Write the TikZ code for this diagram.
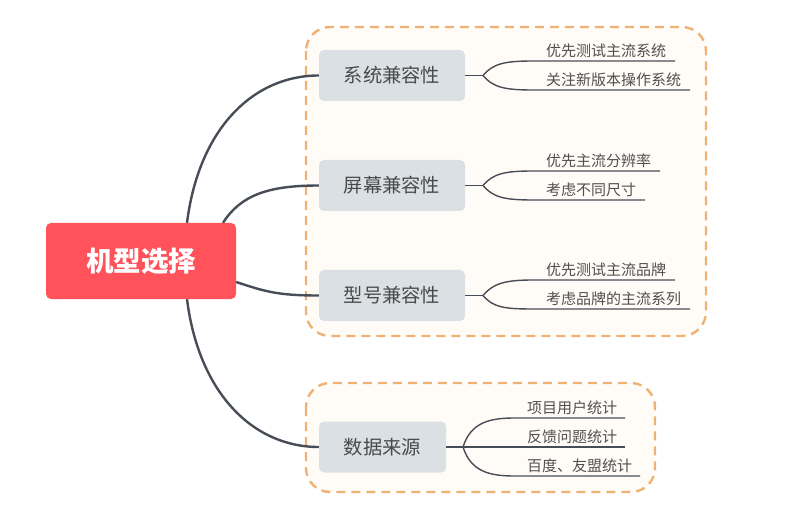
\documentclass[tikz,border=0pt]{standalone}
\usepackage{fontspec}
\newfontfamily\cjk{Noto Sans CJK SC}
\definecolor{rootred}{HTML}{FF525B}
\definecolor{branchbg}{HTML}{DAE0E3}
\definecolor{linec}{HTML}{474D56}
\definecolor{grpfill}{HTML}{FFFCF7}
\definecolor{grpdash}{HTML}{F0B274}
\definecolor{txtc}{HTML}{4A4A4A}
\definecolor{leaftxt}{HTML}{505050}
\tikzset{
  grp/.style={draw=grpdash, fill=grpfill, line width=2.4pt, dash pattern=on 9pt off 6pt, rounded corners=24pt},
  rootbox/.style={fill=rootred, rounded corners=5pt, minimum width=190pt, minimum height=76pt, inner sep=0, text=white, font=\cjk\bfseries\fontsize{27.5}{31}\selectfont},
  branch/.style={fill=branchbg, rounded corners=5pt, minimum height=51pt, inner sep=0, text=txtc, font=\cjk\fontsize{19.3}{23}\selectfont},
  leaf/.style={anchor=west, inner sep=0, text=leaftxt, font=\cjk\fontsize{15}{18}\selectfont},
  mainline/.style={draw=linec, line width=2.4pt},
  subline/.style={draw=linec, line width=1.4pt},
}
\begin{document}
\begin{tikzpicture}[x=1pt,y=-1pt]
\fill[white] (0,0) rectangle (800,529);
\useasboundingbox (0,0) rectangle (800,529);
% groups
\draw[grp] (306,27) rectangle (706,336);
\draw[grp] (306,383) rectangle (655,492);
% root and branches
\node[rootbox] (root) at (141,261) {机型选择};
\node[branch, minimum width=146pt] (b1) at (392,75.5) {系统兼容性};
\node[branch, minimum width=146pt] (b2) at (392,185.5) {屏幕兼容性};
\node[branch, minimum width=146pt] (b3) at (392,295.5) {型号兼容性};
\node[branch, minimum width=127pt] (b4) at (382.5,447) {数据来源};
% main connectors
\draw[mainline] ([xshift=46pt]root.north) .. controls +(12,-95) and +(-65,0) .. (b1.west);
\draw[mainline] ([xshift=82pt]root.north) .. controls +(18,-28) and +(-50,0) .. (b2.west);
\draw[mainline] ([yshift=-21pt]root.east) .. controls +(30,10) and +(-40,0) .. (b3.west);
\draw[mainline] ([xshift=46pt]root.south) .. controls +(12,95) and +(-65,0) .. (b4.west);
% leaves
\node[leaf] (t11) at (546,51) {优先测试主流系统};
\node[leaf] (t12) at (546,80) {关注新版本操作系统};
\node[leaf] (t21) at (546,161) {优先主流分辨率};
\node[leaf] (t22) at (546,190) {考虑不同尺寸};
\node[leaf] (t31) at (546,270) {优先测试主流品牌};
\node[leaf] (t32) at (546,299) {考虑品牌的主流系列};
\node[leaf] (t41) at (527,408) {项目用户统计};
\node[leaf] (t42) at (527,437) {反馈问题统计};
\node[leaf] (t43) at (527,466) {百度、友盟统计};
% fork coordinates
\coordinate (f1) at (483,75.5);
\coordinate (f2) at (483,185.5);
\coordinate (f3) at (483,295.5);
\coordinate (f4) at (463,447);
\coordinate (e11) at (675,61);
\coordinate (e12) at (690,90);
\coordinate (e21) at (660,171);
\coordinate (e22) at (645,200);
\coordinate (e31) at (675,280);
\coordinate (e32) at (690,309);
\coordinate (e41) at (625,418);
\coordinate (e42) at (625,447);
\coordinate (e43) at (640,476);
% sub connectors
\foreach \b/\f/\ea/\eb/\sa/\sb in {b1/f1/e11/e12/142/157, b2/f2/e21/e22/127/112, b3/f3/e31/e32/142/157}{
  \draw[subline] (\b.east) -- (\f);
  \draw[subline] (\f) .. controls +(10,-12) and +(-28,0) .. ([xshift=-\sa pt]\ea) -- (\ea);
  \draw[subline] (\f) .. controls +(10,12) and +(-28,0) .. ([xshift=-\sb pt]\eb) -- (\eb);
}
\draw[subline] (b4.east) -- (f4);
\draw[subline] (f4) .. controls +(8,-25) and +(-25,0) .. ([xshift=-110pt]e41) -- (e41);
\draw[subline] (f4) -- (e42);
\draw[subline] (f4) .. controls +(8,25) and +(-25,0) .. ([xshift=-125pt]e43) -- (e43);
\end{tikzpicture}
\end{document}
